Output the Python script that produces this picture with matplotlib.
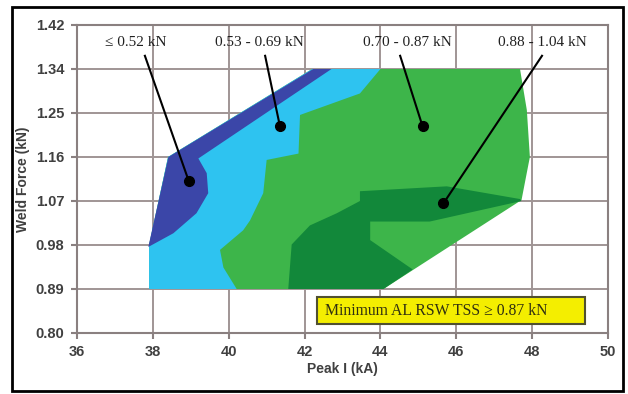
import numpy as np
import matplotlib
matplotlib.use("Agg")
import matplotlib.pyplot as plt
from matplotlib.patches import Rectangle

plt.rcParams['font.family'] = ['Liberation Sans', 'DejaVu Sans']

# axis ticks
current_ticks = [36, 38, 40, 42, 44, 46, 48, 50]
force_ticks = [0.80, 0.89, 0.98, 1.07, 1.16, 1.25, 1.34, 1.42]

# band outlines (Peak I kA, Weld Force kN)
band_070_087 = [(37.9, 0.89), (37.9, 0.98), (38.4, 1.16), (42.2, 1.34), (47.68, 1.34),
                (47.86, 1.256), (47.94, 1.16), (47.72, 1.072), (44.08, 0.89)]
band_053_069 = [(37.9, 0.89), (37.9, 0.98), (38.4, 1.16), (42.2, 1.34), (44.0, 1.34),
                (43.46, 1.29), (41.88, 1.246), (41.84, 1.167), (41.0, 1.154), (40.91, 1.086),
                (40.56, 1.03), (40.38, 1.01), (39.77, 0.97), (39.86, 0.934), (40.21, 0.89)]
band_le_052 = [(37.88, 0.976), (38.41, 1.16), (42.23, 1.34), (42.71, 1.34), (39.2, 1.157),
               (39.42, 1.127), (39.46, 1.086), (39.15, 1.045), (38.54, 1.004)]
band_088_104 = [(41.57, 0.89), (41.66, 0.981), (42.14, 1.02), (42.85, 1.045), (43.46, 1.07),
                (43.46, 1.09), (45.75, 1.10), (47.68, 1.074), (47.72, 1.07), (45.3, 1.028),
                (43.73, 1.028), (43.73, 0.99), (44.85, 0.93), (44.08, 0.89)]

# callouts: label, label x, point (kA, kN)
labels = ["\u2264 0.52 kN", "0.53 - 0.69 kN", "0.70 - 0.87 kN", "0.88 - 1.04 kN"]
label_x = [37.55, 40.8, 44.7, 48.26]
line_x = [37.79, 40.96, 44.52, 48.26]
point_i = [38.95, 41.35, 45.11, 45.66]
point_f = [1.11, 1.223, 1.223, 1.065]

def fy(v):
    return np.interp(v, force_ticks, np.arange(len(force_ticks)))

fig = plt.figure(figsize=(6.28, 3.94), dpi=100)
ax = fig.add_axes([77/628, 1-333/394, (608-77)/628, (333-25)/394])

gridc = "#a09595"
ax.set_xlim(36, 50)
ax.set_ylim(0, len(force_ticks)-1)
ax.set_xticks(current_ticks)
ax.set_yticks(np.arange(len(force_ticks)))
ax.set_yticklabels(["%.2f" % f for f in force_ticks])
ax.grid(True, color=gridc, lw=1.4, zorder=0)
ax.set_axisbelow(True)
for s in ax.spines.values():
    s.set_color("#8a8080")
    s.set_linewidth(1.5)
ax.tick_params(colors="#8a8080", length=4, width=1.5, labelcolor="#404040",
               labelsize=10.5, pad=5)
for t in ax.get_xticklabels() + ax.get_yticklabels():
    t.set_fontweight("bold")

colors = ["#3db54a", "#2ec3f0", "#3b46a8", "#12883a"]
for band, c in zip([band_070_087, band_053_069, band_le_052, band_088_104], colors):
    xs = [p[0] for p in band]
    ys = fy([p[1] for p in band])
    ax.fill(xs, ys, color=c, lw=0, zorder=2)

serif = ["Liberation Serif", "DejaVu Serif"]
for lab, lx, sx, px, pf in zip(labels, label_x, line_x, point_i, point_f):
    ax.text(lx, 6.6, lab, ha="center", va="center", fontsize=11,
            family=serif, color="#202020", zorder=5)
    ax.plot([sx, px], [6.3, fy(pf)], color="black", lw=1.5, zorder=4)
    ax.plot(px, fy(pf), "o", color="black", ms=7, zorder=4)

ax.add_patch(Rectangle((42.33, 0.205), 7.07, 0.613, facecolor="#f4ee00",
                       edgecolor="#505030", lw=1.5, zorder=5))
ax.text(42.54, 0.51, "Minimum AL RSW TSS \u2265 0.87 kN", ha="left", va="center",
        fontsize=11.3, family=serif, color="#303010", zorder=6)

ax.set_xlabel("Peak I (kA)", fontsize=10, fontweight="bold", color="#404040", labelpad=2)
ax.set_ylabel("Weld Force (kN)", fontsize=10, fontweight="bold", color="#404040", labelpad=4)

fig.patches.append(Rectangle((12/628, 1-391/394), 611/628, 384/394, transform=fig.transFigure,
                             fill=False, edgecolor="black", lw=2))

fig.savefig("out.png", dpi=100)
